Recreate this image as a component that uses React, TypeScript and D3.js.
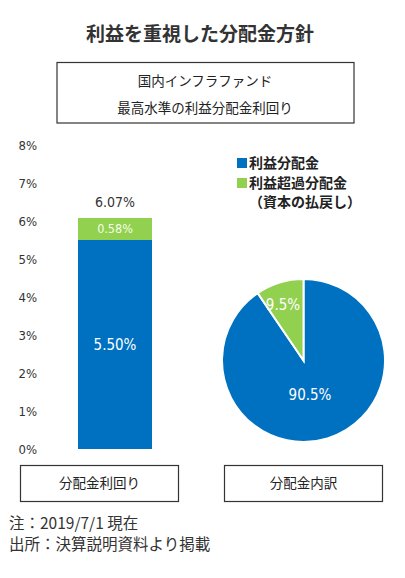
import React from 'react';
import * as d3 from 'd3';

const yTicks = [0, 1, 2, 3, 4, 5, 6, 7, 8];
const barSeries = ['利益分配金', '利益超過分配金'];
const barValues = [5.5, 0.58];
const barLabels = ['5.50%', '0.58%'];
const barTotalLabel = '6.07%';
const pieValues = [90.5, 9.5];
const pieLabels = ['90.5%', '9.5%'];
const colors = ['#0070c0', '#92d050'];

const JP = '"Noto Sans CJK JP", sans-serif';
const NUM = '"DejaVu Sans Condensed", "Liberation Sans Narrow", "Roboto", sans-serif';

export default function App() {
  const W = 405, H = 578;

  const y = d3.scaleLinear().domain([0, 8]).range([449, 145]);
  const barX = 78, barW = 74;

  let acc = 0;
  const stacks = barValues.map((v, i) => {
    const y0 = acc;
    acc += v;
    return { i, y0, y1: acc };
  });
  const total = d3.sum(barValues);

  const pie = d3.pie<number>().sort(null)(pieValues);
  const arc = d3.arc<d3.PieArcDatum<number>>().innerRadius(0).outerRadius(81.5);
  const cx = 303.5, cy = 360.5;
  const labelPos = [
    [6.5, 34.5],
    [-20.5, -55.5],
  ];

  return (
    <svg width={W} height={H} style={{ position: 'absolute', left: 0, top: 0, background: '#fff' }}>
      <rect width={W} height={H} fill="#fff" />
      {/* title */}
      <text x={200} y={41} textAnchor="middle" fontFamily={JP} fontWeight={700} fontSize={19} fill="#333">
        利益を重視した分配金方針
      </text>
      <rect x={57} y={62.5} width={297} height={60.5} fill="none" stroke="#333" strokeWidth={1.2} />
      <text x={205} y={86} textAnchor="middle" fontFamily={JP} fontSize={13.5} fill="#222">
        国内インフラファンド
      </text>
      <text x={205} y={113} textAnchor="middle" fontFamily={JP} fontSize={13.5} fill="#222">
        最高水準の利益分配金利回り
      </text>

      {/* y axis labels */}
      {yTicks.map(t => (
        <text key={t} x={37} y={y(t) + 5} textAnchor="end" fontFamily={NUM} fontSize={13} fill="#333">
          {t}%
        </text>
      ))}

      {/* stacked bar */}
      {stacks.map(s => (
        <rect key={s.i} x={barX} y={y(s.y1)} width={barW} height={y(s.y0) - y(s.y1)} fill={colors[s.i]} />
      ))}
      <text x={barX + barW / 2} y={y((stacks[0].y0 + stacks[0].y1) / 2) + 5} textAnchor="middle"
        fontFamily={NUM} fontSize={15} fill="#fff">{barLabels[0]}</text>
      <text x={barX + barW / 2} y={y((stacks[1].y0 + stacks[1].y1) / 2) + 4.5} textAnchor="middle"
        fontFamily={NUM} fontSize={12.5} fill="#f4ffe8">{barLabels[1]}</text>
      <text x={barX + barW / 2} y={y(total) - 11} textAnchor="middle"
        fontFamily={NUM} fontSize={14} fill="#333">{barTotalLabel}</text>

      {/* legend */}
      {barSeries.map((s, i) => (
        <g key={s}>
          <rect x={237} y={158 + i * 20} width={10} height={10} fill={colors[i]} />
          <text x={249} y={168 + i * 20} fontFamily={JP} fontWeight={700} fontSize={14} fill="#222">{s}</text>
        </g>
      ))}
      <text x={249} y={207} fontFamily={JP} fontWeight={700} fontSize={14} fill="#222">（資本の払戻し）</text>

      {/* pie */}
      <g transform={`translate(${cx},${cy})`}>
        {pie.map((p, i) => (
          <path key={i} d={arc(p) || ''} fill={colors[i]} stroke="#fff" strokeWidth={2} />
        ))}
        {pie.map((p, i) => (
          <text key={'l' + i} x={labelPos[i][0]} y={labelPos[i][1] + 5} textAnchor="middle"
            fontFamily={NUM} fontSize={15} fill="#fff">{pieLabels[i]}</text>
        ))}
      </g>

      {/* category boxes */}
      <rect x={20.5} y={465.5} width={158} height={36} fill="none" stroke="#333" strokeWidth={1.2} />
      <text x={99.5} y={488} textAnchor="middle" fontFamily={JP} fontSize={13.5} fill="#222">分配金利回り</text>
      <rect x={224.5} y={465.5} width={158} height={36} fill="none" stroke="#333" strokeWidth={1.2} />
      <text x={303.5} y={488} textAnchor="middle" fontFamily={JP} fontSize={13.5} fill="#222">分配金内訳</text>

      {/* notes */}
      <text x={9} y={529} fontFamily={JP} fontSize={15.5} fill="#333">注：2019/7/1 現在</text>
      <text x={9} y={550} fontFamily={JP} fontSize={15.5} fill="#333">出所：決算説明資料より掲載</text>
    </svg>
  );
}
